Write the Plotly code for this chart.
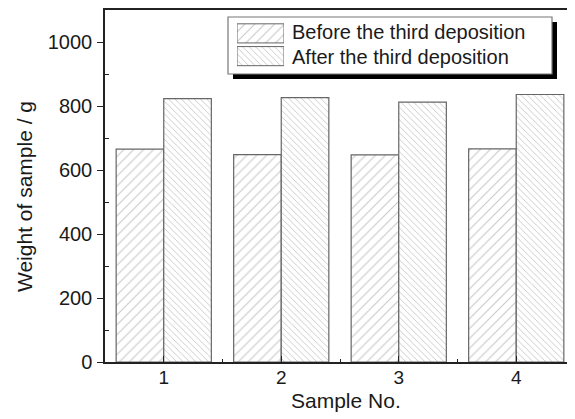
import plotly.graph_objects as go

samples = [1, 2, 3, 4]
before = [665, 648, 647, 666]
after = [823, 826, 812, 836]
series_names = ["Before the third deposition", "After the third deposition"]

# page body has an 8px margin; lay out in window pixels and compensate
OFF = 8
WIN_W, WIN_H = 575, 419
W, H = WIN_W - OFF, WIN_H - OFF
PL, PR, PT, PB = 105, 575, 10, 362  # plot area in window pixels
L, T = PL - OFF, PT - OFF
R, B = WIN_W - PR, WIN_H - PB
pw, ph = PR - PL, PB - PT


def px(x):
    return (x - PL) / pw


def py(y):
    return (PB - y) / ph


font = "Liberation Sans, Arial, sans-serif"
fs = 20
line_col = "#666"
hatch_col = "#8f8f8f"
txt_col = "#1a1a1a"

fig = go.Figure()
fig.add_trace(go.Bar(
    x=samples, y=before, name=series_names[0],
    marker=dict(color="white", line=dict(color=line_col, width=1.2),
                pattern=dict(shape="/", size=7, solidity=0.15, fgcolor=hatch_col, bgcolor="white")),
    showlegend=False))
fig.add_trace(go.Bar(
    x=samples, y=after, name=series_names[1],
    marker=dict(color="white", line=dict(color=line_col, width=1.2),
                pattern=dict(shape="\\", size=4.5, solidity=0.2, fgcolor=hatch_col, bgcolor="white")),
    showlegend=False))

# legend swatches on an auxiliary axis
fig.add_trace(go.Bar(
    x=[1], y=[1], orientation="h", xaxis="x2", yaxis="y2", width=0.84,
    marker=dict(color="white", line=dict(color=line_col, width=1),
                pattern=dict(shape="/", size=7, solidity=0.15, fgcolor=hatch_col, bgcolor="white")),
    showlegend=False, hoverinfo="skip"))
fig.add_trace(go.Bar(
    x=[1], y=[0], orientation="h", xaxis="x2", yaxis="y2", width=0.84,
    marker=dict(color="white", line=dict(color=line_col, width=1),
                pattern=dict(shape="\\", size=4.5, solidity=0.2, fgcolor=hatch_col, bgcolor="white")),
    showlegend=False, hoverinfo="skip"))

shapes = [
    dict(type="rect", xref="paper", yref="paper", x0=px(233), x1=px(557), y0=py(79), y1=py(22),
         fillcolor="black", line=dict(width=0), layer="below"),
    dict(type="rect", xref="paper", yref="paper", x0=px(228), x1=px(552), y0=py(74), y1=py(17),
         fillcolor="white", line=dict(color="#777", width=1.2), layer="below"),
]

annotations = [
    dict(x=px(290), y=py(32), xref="paper", yref="paper", text=series_names[0], showarrow=False,
         xanchor="left", yanchor="middle", font=dict(family=font, size=fs, color=txt_col)),
    dict(x=px(290), y=py(57.5), xref="paper", yref="paper", text=series_names[1], showarrow=False,
         xanchor="left", yanchor="middle", font=dict(family=font, size=fs, color=txt_col)),
    dict(x=px(346), y=py(400), xref="paper", yref="paper", text="Sample No.", showarrow=False,
         xanchor="center", yanchor="middle", font=dict(family=font, size=21, color=txt_col)),
    dict(x=px(24), y=py(197), xref="paper", yref="paper", text="Weight of sample / g", showarrow=False,
         textangle=-90, xanchor="center", yanchor="middle", font=dict(family=font, size=21, color=txt_col)),
]

fig.update_layout(
    width=W, height=H,
    margin=dict(l=L, r=R, t=T, b=B, pad=0),
    paper_bgcolor="white", plot_bgcolor="rgba(0,0,0,0)",
    barmode="group", bargap=0.19, bargroupgap=0,
    font=dict(family=font, size=fs, color=txt_col),
    shapes=shapes, annotations=annotations,
    xaxis=dict(range=[0.5, 4.5], tickvals=samples, ticktext=[str(s) for s in samples],
               showgrid=False, zeroline=False, showline=True, linecolor="#222", linewidth=1.5,
               mirror=True, ticks="inside", ticklen=6, tickcolor="#222", tickwidth=1.2,
               ticklabelstandoff=-3, tickfont=dict(size=19),
               minor=dict(tickvals=[1.5, 2.5, 3.5], ticks="inside", ticklen=3, tickcolor="#222")),
    yaxis=dict(range=[0, 1100], tickvals=[0, 200, 400, 600, 800, 1000],
               showgrid=False, zeroline=False, showline=True, linecolor="#222", linewidth=1.5,
               ticks="outside", ticklen=6, tickcolor="#222", tickwidth=1.2,
               ticklabelstandoff=1,
               minor=dict(tickvals=[100, 300, 500, 700, 900], ticks="inside", ticklen=4, tickcolor="#222")),
    xaxis2=dict(domain=[px(237), px(284)], anchor="y2", range=[0, 1], visible=False, fixedrange=True),
    yaxis2=dict(domain=[py(67.5), py(22)], anchor="x2", range=[-0.5, 1.5], visible=False, fixedrange=True),
)

fig.write_html("out.html")
